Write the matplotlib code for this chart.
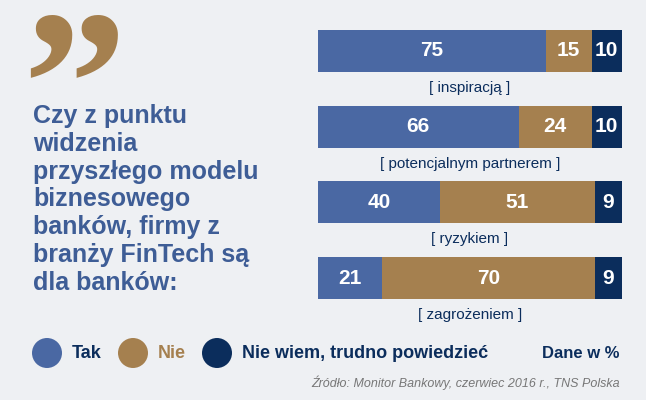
import matplotlib.pyplot as plt
from matplotlib.patches import Circle

categories = ["[ inspiracją ]", "[ potencjalnym partnerem ]", "[ ryzykiem ]", "[ zagrożeniem ]"]
tak = [75, 66, 40, 21]
nie = [15, 24, 51, 70]
nie_wiem = [10, 10, 9, 9]
series_names = ["Tak", "Nie", "Nie wiem, trudno powiedzieć"]

BLUE = "#4a68a3"
TAN = "#a5804f"
NAVY = "#0b2d5c"
BG = "#eef0f3"
plt.rcParams["font.family"] = ["Liberation Sans Narrow", "Liberation Sans", "DejaVu Sans"]

fig = plt.figure(figsize=(6.46, 4.0), dpi=100, facecolor=BG)
W, H = 646, 400

# bars
ax = fig.add_axes([318 / W, (H - 299) / H, 304 / W, 269 / H])
ax.set_facecolor(BG)
bh = 0.555
for i, cat in enumerate(categories):
    left = 0
    for vals, col in zip((tak, nie, nie_wiem), (BLUE, TAN, NAVY)):
        v = vals[i]
        ax.barh(i, v, left=left, height=bh, color=col, edgecolor="none")
        ax.text(left + v / 2, i, str(v), ha="center", va="center", color="white",
                fontsize=15, fontweight="bold")
        left += v
    ax.text(50, i + bh / 2 + 0.21, cat, ha="center", va="center", color=NAVY,
            fontsize=11, clip_on=False)
ax.set_xlim(0, 100)
ax.set_ylim(3 + bh / 2, -bh / 2)
ax.axis("off")

# quote mark
fig.text(22 / W, 1 - 8 / H, "\u201d", fontsize=150, fontweight="bold", color=TAN,
         family="Liberation Serif", ha="left", va="top")

# question
fig.text(33 / W, 1 - 104 / H,
         "Czy z punktu\nwidzenia\nprzyszłego modelu\nbiznesowego\nbanków, firmy z\nbranży FinTech są\ndla banków:",
         fontsize=18, fontweight="bold", color="#3e5d96", ha="left", va="top", linespacing=1.2)

# legend
for x, col, name in zip((47, 133, 217), (BLUE, TAN, NAVY), series_names):
    fig.patches.append(Circle((x / 100, (H - 353) / 100), 0.15,
                              transform=fig.dpi_scale_trans, color=col, ec="none"))
    fig.text((x + 25) / W, 1 - 353 / H, name, fontsize=13, fontweight="bold",
             color=TAN if col == TAN else NAVY, ha="left", va="center")
fig.text(620 / W, 1 - 353 / H, "Dane w %", fontsize=12, fontweight="bold", color=NAVY,
         ha="right", va="center")
fig.text(620 / W, 1 - 383 / H, "Źródło: Monitor Bankowy, czerwiec 2016 r., TNS Polska",
         fontsize=9, style="italic", color="#777777", ha="right", va="center")

fig.savefig("out.png", dpi=100, facecolor=BG)
